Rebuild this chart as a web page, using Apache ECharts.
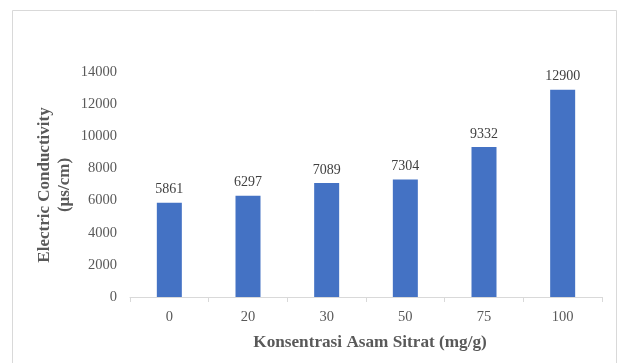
<!DOCTYPE html>
<html>
<head>
<meta charset="utf-8">
<script src="https://cdn.jsdelivr.net/npm/echarts@6/dist/echarts.min.js"></script>
<style>
  html, body { margin: 0; padding: 0; background: #fff; }
  #chart { width: 633px; height: 363px; }
</style>
</head>
<body>
<div id="chart"></div>
<script>
// Citric acid concentration (mg/g) and measured electric conductivity (µs/cm)
const categories = ['0', '20', '30', '50', '75', '100'];
const conductivity = [5861, 6297, 7089, 7304, 9332, 12900];
const yTicks = [0, 2000, 4000, 6000, 8000, 10000, 12000, 14000];
const yTitle = 'Electric Conductivity\n(µs/cm)';
const xTitle = 'Konsentrasi Asam Sitrat (mg/g)';

const serif = '"Liberation Serif", "Times New Roman", serif';
const chart = echarts.init(document.getElementById('chart'));

chart.setOption({
  animation: false,
  backgroundColor: '#ffffff',
  graphic: [{
    type: 'rect',
    shape: { x: 12.5, y: 10.5, width: 604, height: 400 },
    style: { fill: 'none', stroke: '#d9d9d9', lineWidth: 1 },
    silent: true
  }, {
    // rotated value-axis title, two lines
    type: 'text',
    x: 55,
    y: 185,
    rotation: Math.PI / 2,
    style: {
      text: yTitle,
      fontFamily: serif,
      fontSize: 17,
      fontWeight: 'bold',
      fill: '#595959',
      lineHeight: 20,
      align: 'center',
      verticalAlign: 'middle'
    },
    silent: true
  }],
  grid: { left: 130, right: 31, top: 72, bottom: 66, containLabel: false },
  xAxis: {
    type: 'category',
    data: categories,
    name: xTitle,
    nameLocation: 'middle',
    nameGap: 37,
    nameTextStyle: { fontFamily: serif, fontSize: 17.2, fontWeight: 'bold', color: '#595959', padding: [0, 0, 0, 8] },
    axisLine: { lineStyle: { color: '#d9d9d9', width: 1 } },
    axisTick: { show: true, alignWithLabel: false, length: 5, lineStyle: { color: '#d9d9d9' } },
    axisLabel: { fontFamily: serif, fontSize: 14.5, color: '#595959', margin: 13 }
  },
  yAxis: {
    type: 'value',
    min: yTicks[0],
    max: yTicks[yTicks.length - 1],
    interval: yTicks[1] - yTicks[0],
    axisLine: { show: false },
    axisTick: { show: false },
    splitLine: { show: false },
    axisLabel: {
      fontFamily: serif, fontSize: 14.5, color: '#595959', margin: 13,
      formatter: v => String(v)
    }
  },
  series: [{
    type: 'bar',
    data: conductivity,
    barWidth: 25,
    itemStyle: { color: '#4472c4' },
    label: {
      show: true,
      position: 'top',
      distance: 6,
      fontFamily: serif,
      fontSize: 14,
      color: '#404040'
    }
  }]
});
</script>
</body>
</html>
